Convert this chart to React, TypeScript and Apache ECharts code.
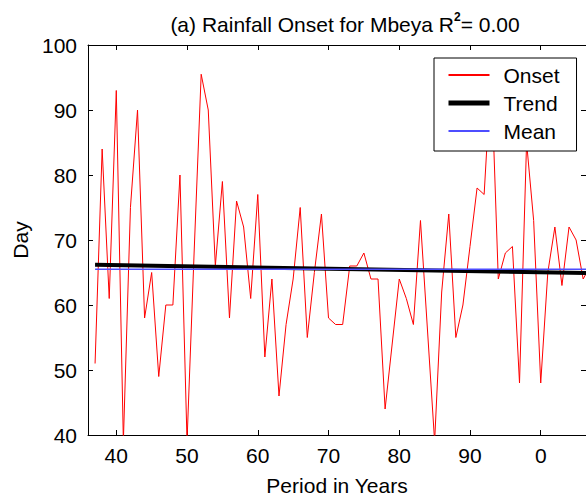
import React, { useEffect, useRef } from "react";
import * as echarts from "echarts";

const years: number[] = [
  37, 38, 39, 40, 41, 42, 43, 44, 45, 46,
  47, 48, 49, 50, 51, 52, 53, 54, 55, 56,
  57, 58, 59, 60, 61, 62, 63, 64, 65, 66,
  67, 68, 69, 70, 71, 72, 73, 74, 75, 76,
  77, 78, 79, 80, 81, 82, 83, 84, 85, 86,
  87, 88, 89, 90, 91, 92, 93, 94, 95, 96,
  97, 98, 99, 100, 101, 102, 103, 104, 105, 106, 107,
];
const onset: number[] = [
  51, 84, 61, 93, 39, 75, 90, 58, 65, 49,
  60, 60, 80, 39, 68, 95.5, 90, 66, 79, 58,
  76, 72, 61, 77, 52, 64, 46, 57, 64, 75,
  55, 65, 74, 58, 57, 57, 66, 66, 68, 64,
  64, 44, 54, 64, 61, 57, 73, 56, 39, 62,
  74, 55, 60, 69, 78, 77, 96, 64, 68, 69,
  48, 85, 73, 48, 65, 72, 63, 72, 70, 64, 66,
];
const trendYears: number[] = [37, 107];
const trendValues: number[] = [66.2, 64.9];
const meanYears: number[] = [37, 107];
const meanValues: number[] = [65.5, 65.5];
const xTicks: number[] = [40, 50, 60, 70, 80, 90, 100];

const FONT = "Liberation Sans";

export default function App() {
  const ref = useRef<HTMLDivElement>(null);
  useEffect(() => {
    if (!ref.current) return;
    const chart = echarts.init(ref.current, null, { renderer: "svg" });
    const pairs = (xs: number[], ys: number[]) => xs.map((x, i) => [x, ys[i]]);
    const xCommon = {
      type: "value",
      min: 36,
      max: 106.4,
      splitLine: { show: false },
      axisLine: { show: true, onZero: false, lineStyle: { color: "#000", width: 1 } },
      axisTick: { show: true, inside: true, length: 5, customValues: xTicks, lineStyle: { color: "#000" } },
    };
    const yCommon = {
      type: "value",
      min: 40,
      max: 100,
      interval: 10,
      splitLine: { show: false },
      axisLine: { show: true, onZero: false, lineStyle: { color: "#000", width: 1 } },
      axisTick: { show: true, inside: true, length: 5, lineStyle: { color: "#000" } },
    };
    chart.setOption({
      animation: false,
      backgroundColor: "#fff",
      title: {
        text: "{a|(a) Rainfall Onset for Mbeya R}{s|2}{a|= 0.00}",
        left: 340,
        top: 4,
        textAlign: "center",
        textStyle: {
          rich: {
            a: { fontFamily: FONT, fontSize: 21, color: "#000", fontWeight: "normal", verticalAlign: "bottom", lineHeight: 26 },
            s: { fontFamily: FONT, fontSize: 12, color: "#000", verticalAlign: "bottom", lineHeight: 26, padding: [0, 0, 12, 0] },
          },
        },
      },
      legend: {
        orient: "vertical",
        left: 434,
        top: 58,
        padding: [3, 17, 6, 12],
        itemGap: 0,
        itemWidth: 41,
        itemHeight: 14,
        backgroundColor: "#fff",
        borderColor: "#000",
        borderWidth: 1,
        borderRadius: 0,
        itemStyle: { opacity: 0 },
        textStyle: { fontFamily: FONT, fontSize: 21, color: "#000", lineHeight: 28, padding: [0, 0, 0, 9] },
        data: [
          { name: "Onset" },
          { name: "Trend", lineStyle: { width: 5 } },
          { name: "Mean" },
        ],
      },
      grid: { left: 88, top: 45, right: 0, bottom: 60, containLabel: false },
      xAxis: [
        {
          ...xCommon,
          position: "bottom",
          name: "Period in Years",
          nameLocation: "middle",
          nameGap: 40,
          nameTextStyle: { fontFamily: FONT, fontSize: 21, color: "#000" },
          axisLabel: {
            fontFamily: FONT,
            fontSize: 21,
            color: "#000",
            margin: 10,
            customValues: xTicks,
            formatter: (v: number) => String(Math.round(v) % 100),
          },
        },
        { ...xCommon, position: "top", axisLabel: { show: false } },
      ],
      yAxis: [
        {
          ...yCommon,
          position: "left",
          name: "Day",
          nameLocation: "middle",
          nameGap: 56,
          nameTextStyle: { fontFamily: FONT, fontSize: 21, color: "#000" },
          axisLabel: { fontFamily: FONT, fontSize: 21, color: "#000", margin: 11 },
        },
        { ...yCommon, position: "right", axisLabel: { show: false } },
      ],
      series: [
        {
          name: "Onset",
          type: "line",
          data: pairs(years, onset),
          symbol: "none",
          clip: true,
          lineStyle: { color: "#ff0000", width: 1 },
          itemStyle: { color: "#ff0000" },
          z: 2,
        },
        {
          name: "Trend",
          type: "line",
          data: pairs(trendYears, trendValues),
          symbol: "none",
          clip: true,
          lineStyle: { color: "#000", width: 4 },
          itemStyle: { color: "#000" },
          z: 3,
        },
        {
          name: "Mean",
          type: "line",
          data: pairs(meanYears, meanValues),
          symbol: "none",
          clip: true,
          lineStyle: { color: "#4d4dff", width: 1.5 },
          itemStyle: { color: "#4d4dff" },
          z: 4,
        },
      ],
    });
    return () => chart.dispose();
  }, []);
  return <div ref={ref} style={{ width: 586, height: 501, position: "absolute", left: 0, top: 0 }} />;
}
